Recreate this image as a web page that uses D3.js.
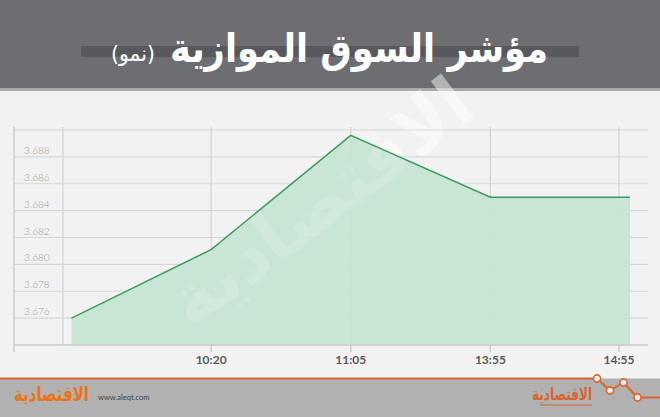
<!DOCTYPE html>
<html><head><meta charset="utf-8">
<script src="https://cdn.jsdelivr.net/npm/d3@7/dist/d3.min.js"></script>
<style>
html,body{margin:0;padding:0;background:#f2f2f2;}
svg{display:block;}
</style></head>
<body>
<script>
// ---- data ----
const categories = ["", "10:20", "11:05", "13:55", "14:55"];
const values = [3.676, 3.6811, 3.6896, 3.6850, 3.6850];
const yTicks = [3.676, 3.678, 3.680, 3.682, 3.684, 3.686, 3.688];
const titleMain = "مؤشر السوق الموازية";
const titleSub = "(نمو)";
const logoText = "الاقتصادية";
const siteText = "www.aleqt.com";

const W = 660, H = 417;
const svg = d3.select("body").append("svg").attr("width", W).attr("height", H);

// background
svg.append("rect").attr("width", W).attr("height", H).attr("fill", "#f2f2f2");

// header
svg.append("rect").attr("x", 0).attr("y", 0).attr("width", W).attr("height", 91).attr("fill", "#a9aaac");
svg.append("rect").attr("x", 0).attr("y", 0).attr("width", W).attr("height", 88).attr("fill", "#6d6e72");
svg.append("rect").attr("x", 81).attr("y", 46).attr("width", 498).attr("height", 11).attr("fill", "#58595d");
svg.append("text").attr("x", 548).attr("y", 62).attr("text-anchor", "end")
  .attr("font-family", "DejaVu Sans").attr("font-weight", "bold").attr("font-size", 40)
  .attr("fill", "#ffffff")
  .attr("textLength", 378).attr("lengthAdjust", "spacingAndGlyphs")
  .text(titleMain);
svg.append("text").attr("x", 155).attr("y", 61).attr("text-anchor", "end")
  .attr("font-family", "DejaVu Sans").attr("font-weight", "normal").attr("font-size", 22)
  .attr("fill", "#ffffff")
  .attr("textLength", 44).attr("lengthAdjust", "spacingAndGlyphs")
  .text(titleSub);

// scales
const x = d3.scalePoint().domain(categories).range([71.5, 630]);
const y = d3.scaleLinear().domain([3.674, 3.690]).range([345, 130]);

const gridLeft = 14, gridRight = 648, gridTop = 127;

// watermark
const wm = () => svg.append("text").attr("transform", "translate(335,222) rotate(-37)")
  .attr("text-anchor", "middle").attr("font-family", "DejaVu Sans").attr("font-weight", "bold")
  .attr("font-size", 72).attr("fill", "#ffffff")
  .attr("textLength", 360).attr("lengthAdjust", "spacingAndGlyphs")
  .text(logoText);
wm().attr("opacity", 0.4);

// horizontal grid
const hTicks = y.ticks(8);
svg.append("g").selectAll("line").data(hTicks).join("line")
  .attr("x1", gridLeft).attr("x2", gridRight)
  .attr("y1", d => y(d)).attr("y2", d => y(d))
  .attr("stroke", "#d6d6d6").attr("stroke-width", 1.2);

// vertical grid (offset edges as in reference)
const gridOffsets = [-8.5, 0, 0, 0, -11];
svg.append("g").selectAll("line").data(categories).join("line")
  .attr("x1", (d, i) => x(d) + gridOffsets[i]).attr("x2", (d, i) => x(d) + gridOffsets[i])
  .attr("y1", gridTop).attr("y2", y(3.674))
  .attr("stroke", "#d3d3d3").attr("stroke-width", 1.2);

// area + line
const pts = categories.map((c, i) => [c, values[i]]);
svg.append("path").datum(pts)
  .attr("d", d3.area().x(d => x(d[0])).y0(y(3.674)).y1(d => y(d[1])))
  .attr("fill", "#c6e5d3").attr("opacity", 0.95);
wm().attr("opacity", 0.13);
svg.append("path").datum(pts)
  .attr("d", d3.line().x(d => x(d[0])).y(d => y(d[1])))
  .attr("fill", "none").attr("stroke", "#3d9a5e").attr("stroke-width", 1.5);

// axes
svg.append("line").attr("x1", gridLeft).attr("x2", gridRight).attr("y1", y(3.674)).attr("y2", y(3.674))
  .attr("stroke", "#c4c4c4").attr("stroke-width", 1.2);
svg.append("line").attr("x1", gridLeft).attr("x2", gridLeft).attr("y1", gridTop).attr("y2", 352)
  .attr("stroke", "#c4c4c4").attr("stroke-width", 1.2);

// y labels
svg.append("g").selectAll("text").data(yTicks).join("text")
  .attr("x", 24).attr("y", d => y(d) - 3)
  .attr("font-family", "Lato, 'Open Sans', sans-serif").attr("font-weight", 300).attr("font-size", 10)
  .attr("fill", "#9a9a9a").text(d => d3.format(".3f")(d));

// x ticks + labels
const labeled = categories.map((c, i) => ({c, i})).filter(d => d.c !== "");
svg.append("g").selectAll("line").data(labeled).join("line")
  .attr("x1", d => x(d.c) + gridOffsets[d.i]).attr("x2", d => x(d.c) + gridOffsets[d.i])
  .attr("y1", y(3.674)).attr("y2", 352).attr("stroke", "#c4c4c4").attr("stroke-width", 1.2);
svg.append("g").selectAll("text").data(labeled).join("text")
  .attr("x", d => x(d.c) + gridOffsets[d.i]).attr("y", 364).attr("text-anchor", "middle")
  .attr("font-family", "Lato, 'Open Sans', sans-serif").attr("font-weight", "bold").attr("font-size", 12)
  .attr("fill", "#5a5a5a").text(d => d.c);

// footer
svg.append("rect").attr("x", 0).attr("y", 378.5).attr("width", W).attr("height", H - 378.5).attr("fill", "#b1b1b1");
const zig = [[0, 378.5], [597, 378.5], [610, 390.5], [623.5, 382.5], [637.5, 397.5], [660, 397.5]];
svg.append("path").attr("d", d3.line()(zig)).attr("fill", "none").attr("stroke", "#d9652f").attr("stroke-width", 2);
svg.append("g").selectAll("circle").data(zig.slice(1, 5)).join("circle")
  .attr("cx", d => d[0]).attr("cy", d => d[1]).attr("r", 3.6)
  .attr("fill", "#eeeeee").attr("stroke", "#d9652f").attr("stroke-width", 1.6);

// left logo (scaled vertically so its natural width stays compact)
svg.append("text").attr("transform", "translate(14,401) scale(1,1.35)")
  .attr("x", 0).attr("y", 0)
  .attr("font-family", "DejaVu Sans").attr("font-weight", "bold").attr("font-size", 15)
  .attr("fill", "#ee7318")
  .text(logoText);
svg.append("text").attr("x", 98).attr("y", 400).attr("font-family", "Lato, sans-serif")
  .attr("font-size", 7.5).attr("fill", "#444").text(siteText);

// right logo
svg.append("text").attr("x", 592).attr("y", 400).attr("text-anchor", "end")
  .attr("font-family", "DejaVu Sans").attr("font-weight", "bold").attr("font-size", 17)
  .attr("fill", "#d9652f").attr("textLength", 60).attr("lengthAdjust", "spacingAndGlyphs")
  .text(logoText);
svg.append("rect").attr("x", 540).attr("y", 404).attr("width", 52).attr("height", 2).attr("fill", "#c9794f").attr("opacity", 0.7);
</script>
</body></html>
